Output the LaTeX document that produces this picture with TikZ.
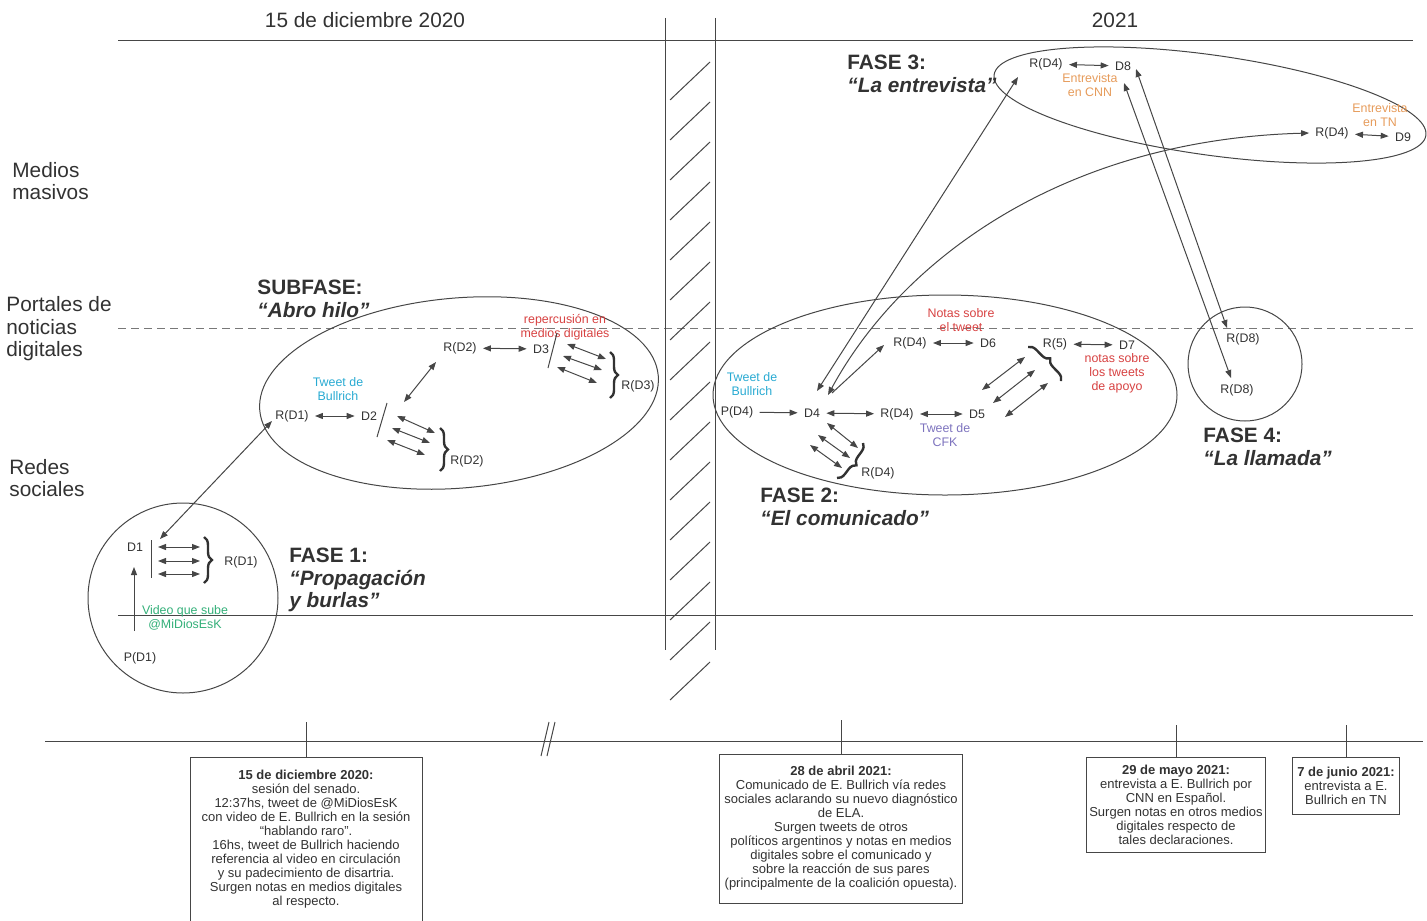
\documentclass[tikz,border=0pt]{standalone}
\usepackage{fontspec}
\setmainfont{Liberation Sans}
\usetikzlibrary{arrows.meta,decorations.pathreplacing}
\definecolor{ink}{RGB}{50,50,50}
\definecolor{lin}{RGB}{70,70,70}
\definecolor{dgray}{RGB}{120,120,120}
\definecolor{tcyan}{RGB}{40,170,210}
\definecolor{vgreen}{RGB}{50,175,120}
\definecolor{tred}{RGB}{215,65,65}
\definecolor{torng}{RGB}{230,155,90}
\definecolor{tpurp}{RGB}{125,115,190}

\begin{document}
\begin{tikzpicture}[x=0.5pt,y=-0.5pt,
  lab/.style={font=\fontsize{6.2}{7}\selectfont,text=ink,inner sep=3pt,align=center},
  side/.style={font=\fontsize{10.4}{11.2}\selectfont,text=ink,inner sep=0pt,align=left,anchor=west},
  fase/.style={side,font=\fontsize{10.4}{11.2}\selectfont\bfseries},
  ln/.style={draw=lin,line width=0.5pt},
  dd/.style={ln,{Triangle[length=4pt,width=3pt]}-{Triangle[length=4pt,width=3pt]}},
  sa/.style={ln,-{Triangle[length=4pt,width=3pt]}},
  brc/.style={draw=ink,line width=1.2pt,decorate,decoration={brace,amplitude=4pt}},
  tbox/.style={ln,font=\fontsize{6.5}{7}\selectfont,text=ink,align=center,inner sep=0pt}]
\useasboundingbox (0,0) rectangle (1427,920);

\node[font=\fontsize{10.4}{12}\selectfont,text=ink] (h1) at (365,20) {15 de diciembre 2020};
\node[font=\fontsize{10.4}{12}\selectfont,text=ink] (h2) at (1115,20) {2021};
\draw[ln] (118,41) -- (1413,41);
\draw[ln] (118,615) -- (1413,615);
\draw[draw=dgray,line width=0.5pt,dash pattern=on 4pt off 2.5pt] (118,328) -- (1413,328);
\node[side] (mm) at (12,181) {Medios\\masivos};
\node[side] (pn) at (6,329) {Portales de\\noticias\\digitales};
\node[side] (rs) at (9,478) {Redes\\sociales};

\draw[ln] (665,18) -- (665,650);
\draw[ln] (715,18) -- (715,650);
\foreach \y in {100,140,...,700}
  \draw[ln] (670,\y) -- (710,\y-38);

% fase 1
\draw[ln] (183,598) circle [radius=47.5pt];
\node[lab] (D1) at (135,547) {D1};
\node[lab] (RD1) at (241,562) {R(D1)};
\node[lab] (PD1) at (140,658) {P(D1)};
\node[lab,text=vgreen] (vid) at (185,618) {Video que sube\\@MiDiosEsK};
\draw[ln] (151,540) -- (151,578);
\draw[dd] (158,547) -- (200,547);
\draw[dd] (158,561) -- (200,561);
\draw[dd] (158,574) -- (200,574);
\draw[brc] (204,537) -- (204,583);
\coordinate (p1) at (134,631);
\coordinate (p2) at (134,567);
\draw[sa] (p1) -- (p2);
\node[fase] (f1) at (289,580) {FASE 1:\\\textit{“Propagación}\\\textit{y burlas”}};
\coordinate (a1) at (160,539);
\coordinate (a2) at (272,421);
\draw[dd] (a1) -- (a2);

% subfase
\draw[ln,rotate around={5:(459,393)}] (459,393) ellipse [x radius=100pt,y radius=47.5pt];
\node[fase] (sf) at (257,299) {SUBFASE:\\\textit{“Abro hilo”}};
\node[lab] (RD1s) at (292,416) {R(D1)};
\node[lab] (D2) at (369,416) {D2};
\node[lab,text=tcyan] (tw1) at (338,389) {Tweet de\\Bullrich};
\draw[dd] (RD1s) -- (D2);
\draw[ln] (377,437) -- (387,403);
\coordinate (b1) at (404,402);
\coordinate (b2) at (436,362);
\draw[dd] (b1) -- (b2);
\draw[dd] (397,416) -- (435,433);
\draw[dd] (392,428) -- (430,443);
\draw[dd] (387,440) -- (425,455);
\draw[brc] (440,428) -- (440,471);
\node[lab] (RD2b) at (467,461) {R(D2)};
\node[lab] (RD2) at (460,348) {R(D2)};
\node[lab] (D3) at (541,349) {D3};
\draw[dd] (RD2) -- (D3);
\node[lab,text=tred] (rep) at (565,327) {repercusión en\\medios digitales};
\draw[ln] (548,368) -- (557,333);
\draw[dd] (567,344) -- (606,359);
\draw[dd] (563,356) -- (602,370);
\draw[dd] (557,367) -- (597,383);
\draw[brc] (610,352) -- (610,398);
\node[lab] (RD3) at (638,386) {R(D3)};

% fase 2
\draw[ln] (945,395) ellipse [x radius=116pt,y radius=50pt];
\node[lab] (PD4) at (737,412) {P(D4)};
\node[lab] (D4) at (812,413) {D4};
\node[lab] (RD4m) at (897,414) {R(D4)};
\node[lab] (D5) at (977,414) {D5};
\draw[sa] (PD4) -- (D4);
\draw[dd] (D4) -- (RD4m);
\draw[dd] (RD4m) -- (D5);
\node[lab,text=tcyan] (tw2) at (752,384) {Tweet de\\Bullrich};
\node[lab,text=tpurp] (tw3) at (945,435) {Tweet de\\CFK};
\node[lab] (RD4u) at (910,343) {R(D4)};
\node[lab] (D6) at (988,343) {D6};
\draw[dd] (RD4u) -- (D6);
\node[lab,text=tred] (nt1) at (961,320) {Notas sobre\\el tweet};
\node[lab] (R5) at (1055,344) {R(5)};
\node[lab] (D7) at (1127,345) {D7};
\draw[dd] (R5) -- (D7);
\node[lab,text=tred] (nt2) at (1117,373) {notas sobre\\los tweets\\de apoyo};
\draw[brc] (1028,347) -- (1061,381);
\draw[dd] (982,390) -- (1025,357);
\draw[dd] (993,403) -- (1035,370);
\draw[dd] (1005,417) -- (1048,383);
\draw[brc] (863,443) -- (837,478);
\node[lab] (RD4b) at (878,473) {R(D4)};
\draw[dd] (827,423) -- (858,448);
\draw[dd] (818,435) -- (850,458);
\draw[dd] (810,445) -- (842,468);
\coordinate (c1) at (832,393);
\coordinate (c2) at (884,345);
\draw[sa] (c1) -- (c2);
\node[fase] (f2) at (760,507) {FASE 2:\\\textit{“El comunicado”}};

% fase 3
\draw[ln,rotate around={-8:(1210,105)}] (1210,105) ellipse [x radius=109pt,y radius=25pt];
\node[fase] (f3) at (847,74) {FASE 3:\\\textit{“La entrevista”}};
\node[lab] (RD4c) at (1046,64) {R(D4)};
\node[lab] (D8) at (1123,66) {D8};
\draw[dd] (RD4c) -- (D8);
\node[lab,text=torng] (cnn) at (1090,85) {Entrevista\\en CNN};
\node[lab,text=torng] (tn) at (1380,115) {Entrevista\\en TN};
\node[lab] (RD4t) at (1332,133) {R(D4)};
\node[lab] (D9) at (1403,137) {D9};
\draw[dd] (RD4t) -- (D9);
\coordinate (e1) at (817,391);
\coordinate (e2) at (1018,77);
\draw[dd] (e1) -- (e2);
\coordinate (e3) at (828,395);
\draw[dd] (e3) .. controls (900,262) and (1060,140) .. (RD4t.west);
\coordinate (g1) at (1136,69);
\coordinate (g2) at (1227,328);
\coordinate (g3) at (1124,83);
\coordinate (g4) at (1231,378);
\draw[dd] (g1) -- (g2);
\draw[dd] (g3) -- (g4);

% fase 4
\draw[ln] (1245,364) circle [radius=28.5pt];
\node[lab] (RD8a) at (1243,339) {R(D8)};
\node[lab] (RD8b) at (1237,390) {R(D8)};
\node[fase] (f4) at (1203,447) {FASE 4:\\\textit{“La llamada”}};

% linea de tiempo
\draw[ln] (45,741) -- (1423,741);
\draw[ln] (541,756) -- (549,722);
\draw[ln] (547,756) -- (555,722);
\node[tbox,minimum width=116pt,minimum height=82pt] (bx1) at (306,839) {\textbf{15 de diciembre 2020:}\\sesión del senado.\\12:37hs, tweet de @MiDiosEsK\\con video de E. Bullrich en la sesión\\“hablando raro”.\\16hs, tweet de Bullrich haciendo\\referencia al video en circulación\\y su padecimiento de disartria.\\Surgen notas en medios digitales\\al respecto.};
\node[tbox,minimum width=121.5pt,minimum height=74.5pt] (bx2) at (841,828.5) {\textbf{28 de abril 2021:}\\Comunicado de E. Bullrich vía redes\\sociales aclarando su nuevo diagnóstico\\de ELA.\\Surgen tweets de otros\\políticos argentinos y notas en medios\\digitales sobre el comunicado y\\sobre la reacción de sus pares\\(principalmente de la coalición opuesta).};
\node[tbox,minimum width=89.5pt,minimum height=47.5pt] (bx3) at (1176,804.5) {\textbf{29 de mayo 2021:}\\entrevista a E. Bullrich por\\CNN en Español.\\Surgen notas en otros medios\\digitales respecto de\\tales declaraciones.};
\node[tbox,minimum width=53.5pt,minimum height=28.5pt] (bx4) at (1346,785.5) {\textbf{7 de junio 2021:}\\entrevista a E.\\Bullrich en TN};
\coordinate (t1) at (306,722);
\coordinate (t2) at (841,720);
\coordinate (t3) at (1176,725);
\coordinate (t4) at (1346,725);
\draw[ln] (t1) -- (bx1.north);
\draw[ln] (t2) -- (bx2.north);
\draw[ln] (t3) -- (bx3.north);
\draw[ln] (t4) -- (bx4.north);

\end{tikzpicture}
\end{document}
